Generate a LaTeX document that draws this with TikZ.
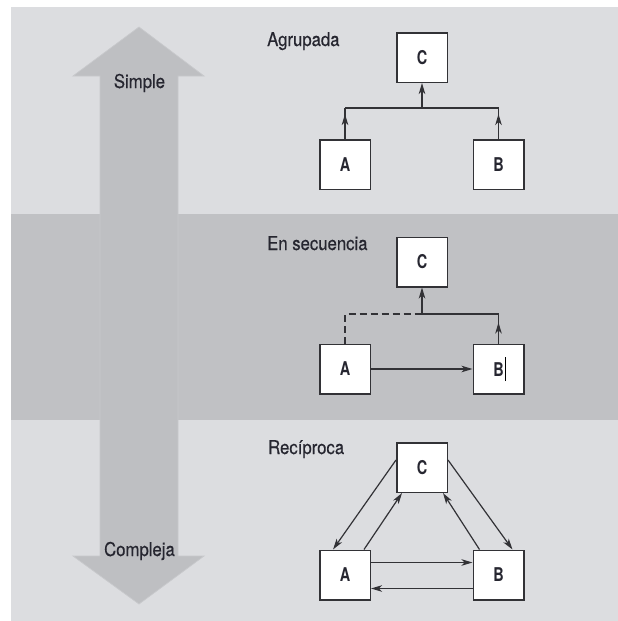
\documentclass[tikz,border=0pt]{standalone}
\usepackage{fontspec}
\setmainfont{TeX Gyre Heros}[FakeStretch=0.88, FakeBold=0.35]
\newfontfamily\boxfont{TeX Gyre Heros}[FakeStretch=0.76]
\usetikzlibrary{arrows.meta, decorations.markings}

\definecolor{lightband}{RGB}{220,221,224}
\definecolor{midband}{RGB}{192,193,196}
\definecolor{bigarrow}{RGB}{190,191,194}
\definecolor{bigarrowedge}{RGB}{200,201,204}
\definecolor{ink}{RGB}{38,38,48}
\definecolor{wire}{RGB}{50,50,54}

\tikzset{
  lbl/.style={text=ink, font=\fontsize{19}{22}\selectfont, inner sep=0pt},
  letterbox/.style={draw=wire, fill=white, line width=1.5pt,
    minimum width=50.5pt, minimum height=49.5pt, inner sep=0pt,
    text=ink, font=\boxfont\bfseries\fontsize{19}{22}\selectfont},
  conn/.style={draw=wire, line width=1.2pt},
  tipstyle/.style={-{Stealth[length=11pt, width=6.5pt, inset=3pt]}},
  arrowed/.style={conn, tipstyle},
  tipat/.style={postaction={decorate}, decoration={markings,
    mark=at position #1 with {\arrow[fill=wire, draw=wire]{Stealth[length=11pt, width=6.5pt, inset=3pt]}}}},
  dashedwire/.style={conn, dash pattern=on 7pt off 4pt}
}

\begin{document}
\begin{tikzpicture}[x=1pt, y=-1pt]
\useasboundingbox (0,0) rectangle (618,621);

% background panel with its three bands
\fill[white] (0,0) rectangle (618,621);
\fill[lightband] (11,7) rectangle (618,214);
\fill[midband] (11,214) rectangle (618,420);
\fill[lightband] (11,420) rectangle (618,621);

% double-headed scale arrow
\filldraw[fill=bigarrow, draw=bigarrowedge, line width=0.7pt]
  (139,27) -- (204,76) -- (178,76) -- (178,556) -- (204,556) -- (139,604)
  -- (73,556) -- (100,556) -- (100,76) -- (73,76) -- cycle;
\node[lbl, anchor=base] (simple) at (139.5,88) {Simple};
\node[lbl, anchor=base] (compleja) at (139.5,556) {Compleja};

% section titles
\node[lbl, anchor=base west] (agr) at (267,46) {Agrupada};
\node[lbl, anchor=base west] (sec) at (267,250) {En secuencia};
\node[lbl, anchor=base west] (rec) at (268,454) {Recíproca};

% grouped interdependence
\node[letterbox] (tC) at (422,57.5) {C};
\node[letterbox] (tA) at (345,164.5) {A};
\node[letterbox] (tB) at (498.5,164.5) {B};
\coordinate (t1) at (345,108);
\coordinate (tj) at (422,108);
\coordinate (t2) at (498.5,108);
\draw[conn, tipat=25pt] (tA.north) -- (t1);
\draw[conn, tipat=25pt] (tB.north) -- (t2);
\draw[conn] (t1) -- (t2);
\draw[arrowed] (tj) -- (tC.south);

% sequential interdependence
\node[letterbox] (mC) at (422,262) {C};
\node[letterbox] (mA) at (345,369) {A};
\node[letterbox] (mB) at (498.5,369) {B\rlap{\hspace{0.8pt}\color{black}\rule[-5pt]{1.4pt}{24pt}}};
\coordinate (m1) at (345,314);
\coordinate (mj) at (422,314);
\coordinate (m2) at (498.5,314);
\draw[dashedwire] (mA.north) -- (m1) -- (mj);
\draw[conn] (mj) -- (m2);
\draw[conn, tipat=21pt] (mB.north) -- (m2);
\draw[arrowed] (mj) -- (mC.south);
\draw[arrowed] (mA.east) -- (mB.west);

% reciprocal interdependence
\node[letterbox] (bC) at (422,467.5) {C};
\node[letterbox] (bA) at (345,575) {A};
\node[letterbox] (bB) at (498.5,575) {B};
\draw[arrowed] ([yshift=-18pt]bC.north west) -- ([xshift=14pt]bA.north west);
\draw[arrowed] ([xshift=-7pt]bA.north east) -- ([xshift=6pt]bC.south west);
\draw[arrowed] ([xshift=7pt]bB.north west) -- ([xshift=-5pt]bC.south east);
\draw[arrowed] ([yshift=-18pt]bC.north east) -- ([xshift=-12pt]bB.north east);
\draw[arrowed] ([yshift=-13pt]bA.north east) -- ([yshift=-13pt]bB.north west);
\draw[arrowed] ([yshift=-39pt]bB.north west) -- ([yshift=-39pt]bA.north east);
\end{tikzpicture}
\end{document}
